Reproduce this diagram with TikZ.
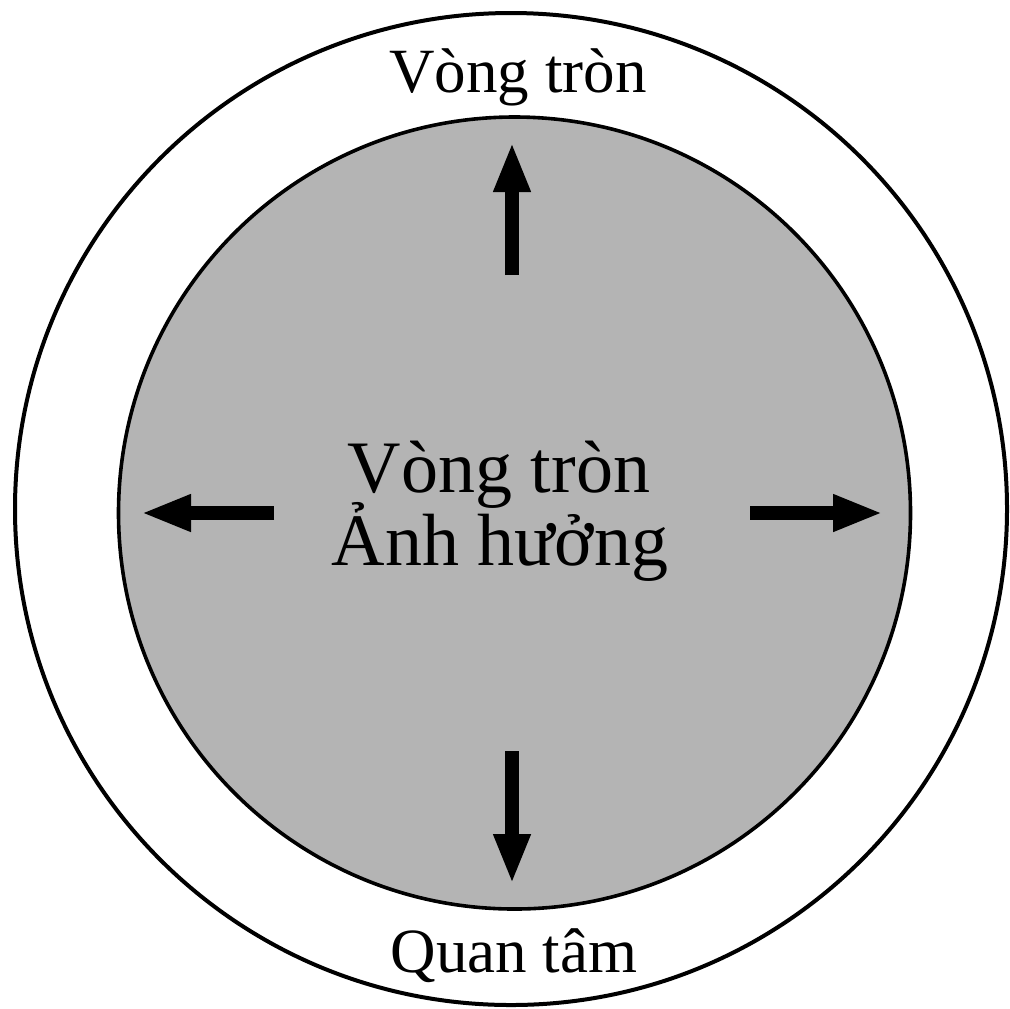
\documentclass[tikz,border=0pt]{standalone}
\usepackage{fontspec}
\setmainfont{Liberation Serif}
\usetikzlibrary{arrows.meta,calc}
\definecolor{igray}{RGB}{180,180,180}
\tikzset{ring/.style={draw,line width=2pt}}
\tikzset{core/.style={draw,fill=igray,line width=1.8pt}}
\tikzset{push/.style={line width=7pt,-{Triangle[length=25pt,width=17pt]}}}
\tikzset{rlabel/.style={anchor=base,inner sep=0pt,font=\fontsize{31.5}{36}\selectfont}}
\tikzset{clabel/.style={anchor=base,inner sep=0pt,font=\fontsize{37}{40}\selectfont}}

\begin{document}
\begin{tikzpicture}[x=0.5pt,y=-0.5pt]
    \useasboundingbox (0,0) rectangle (1010,1008);

    \draw[ring] (511,509) circle (496);
    \draw[core] (514.5,513) circle (396);

    \coordinate (mid) at (512,513);
    \foreach \a in {0,90,180,270}{
      \coordinate (tail\a) at ($(mid)+(\a:238)$);
      \coordinate (tip\a) at ($(mid)+(\a:371)$);
      \draw[push] (tail\a) -- (tip\a);
    }

    \node[rlabel] (concern1) at (518,92) {Vòng tròn};
    \node[rlabel] (concern2) at (514,972) {Quan tâm};
    \node[clabel] (infl1) at (499,492) {Vòng tròn};
    \node[clabel] (infl2) at (500,565) {Ảnh hưởng};
\end{tikzpicture}
\end{document}
